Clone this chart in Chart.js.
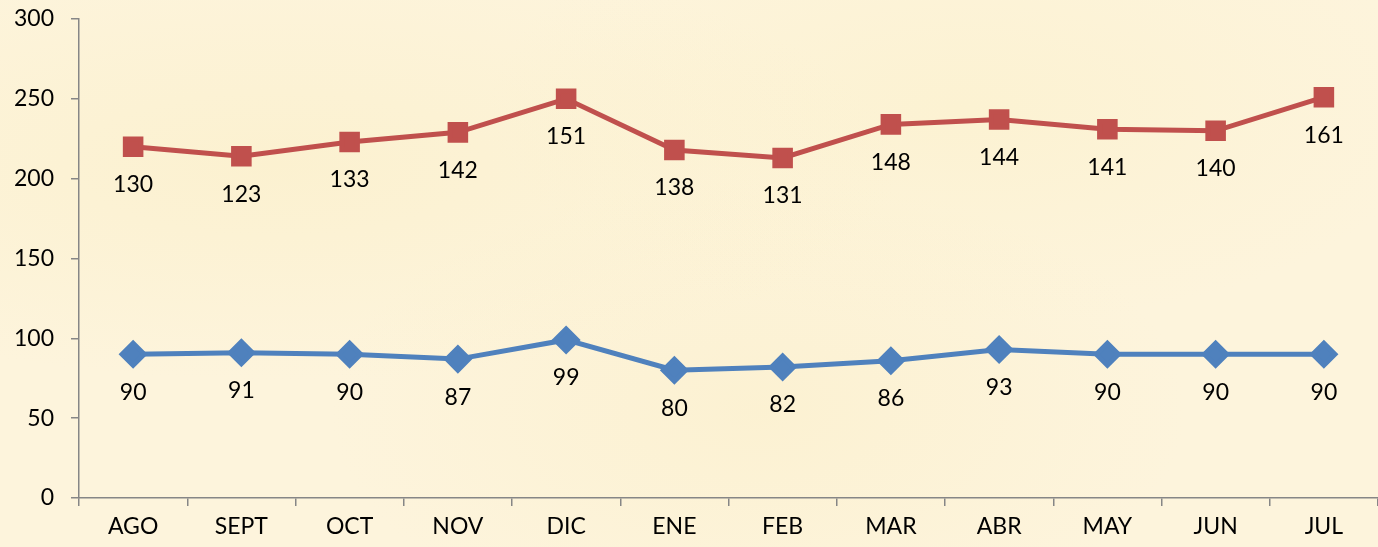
<!DOCTYPE html>
<html>
<head>
<meta charset="utf-8">
<script src="https://cdn.jsdelivr.net/npm/chart.js@4"></script>
<style>
html,body{margin:0;padding:0;}
body{width:1378px;height:547px;overflow:hidden;
background:
 radial-gradient(ellipse at 20% 30%, rgba(250,238,196,0.5), rgba(250,238,196,0) 40%),
 radial-gradient(ellipse at 70% 20%, rgba(251,240,200,0.5), rgba(251,240,200,0) 35%),
 radial-gradient(ellipse at 55% 75%, rgba(250,237,195,0.4), rgba(250,237,195,0) 40%),
 #fdf4dc;}
#wrap{position:relative;width:1378px;height:547px;}
</style>
</head>
<body>
<div id="wrap"><canvas id="c" width="1378" height="547"></canvas></div>
<script>
const categories = ["AGO","SEPT","OCT","NOV","DIC","ENE","FEB","MAR","ABR","MAY","JUN","JUL"];
const seriesBlue = [90,91,90,87,99,80,82,86,93,90,90,90];
const seriesRed = [130,123,133,142,151,138,131,148,144,141,140,161];
const yTicks = [0,50,100,150,200,250,300];

const FONT = "Lato, 'Open Sans', sans-serif";

const labelPlugin = {
  id: 'valueLabels',
  afterDatasetsDraw(chart) {
    const ctx = chart.ctx;
    ctx.save();
    ctx.font = "23px " + FONT;
    ctx.fillStyle = "#000";
    ctx.textAlign = "center";
    ctx.textBaseline = "middle";
    chart.data.datasets.forEach((ds, i) => {
      const meta = chart.getDatasetMeta(i);
      meta.data.forEach((pt, j) => {
        ctx.fillText(String(ds.data[j]), pt.x, pt.y + 38);
      });
    });
    ctx.restore();
  }
};

new Chart(document.getElementById('c'), {
  type: 'line',
  data: {
    labels: categories,
    datasets: [
      {label:'A', data: seriesBlue, borderColor:'#4f81bd', backgroundColor:'#4f81bd',
       borderWidth:5, pointStyle:'rectRot', pointRadius:11, pointHoverRadius:11, fill:false, tension:0},
      {label:'B', data: seriesRed, borderColor:'#c0504d', backgroundColor:'#c0504d',
       borderWidth:5, pointStyle:'rect', pointRadius:11, pointHoverRadius:11, fill:false, tension:0}
    ]
  },
  options: {
    responsive:false,
    animation:false,
    layout:{autoPadding:false, padding:{top:19,right:-2,left:0,bottom:0}},
    plugins:{legend:{display:false}, tooltip:{enabled:false}},
    scales:{
      x:{
        offset:true,
        grid:{display:true, drawOnChartArea:false, drawTicks:true, tickLength:8, color:'#868686', lineWidth:1.5, offset:true},
        border:{display:true, color:'#868686', width:1.5},
        ticks:{color:'#000', font:{family:FONT, size:23}, padding:7, maxRotation:0, autoSkip:false},
        afterFit(s){ s.height = 49; s.paddingLeft = 0; s.paddingRight = 0; }
      },
      y:{
        stacked:true,
        min:0, max:300,
        afterBuildTicks(s){ s.ticks = yTicks.map(v=>({value:v})); },
        grid:{display:true, drawOnChartArea:false, drawTicks:true, tickLength:8, color:'#868686', lineWidth:1.5},
        border:{display:true, color:'#868686', width:1.5},
        ticks:{color:'#000', font:{family:FONT, size:23}, padding:17},
        afterFit(s){ s.width = 79; s.paddingTop = 0; s.paddingBottom = 0; }
      }
    }
  },
  plugins:[labelPlugin]
});
</script>
</body>
</html>
